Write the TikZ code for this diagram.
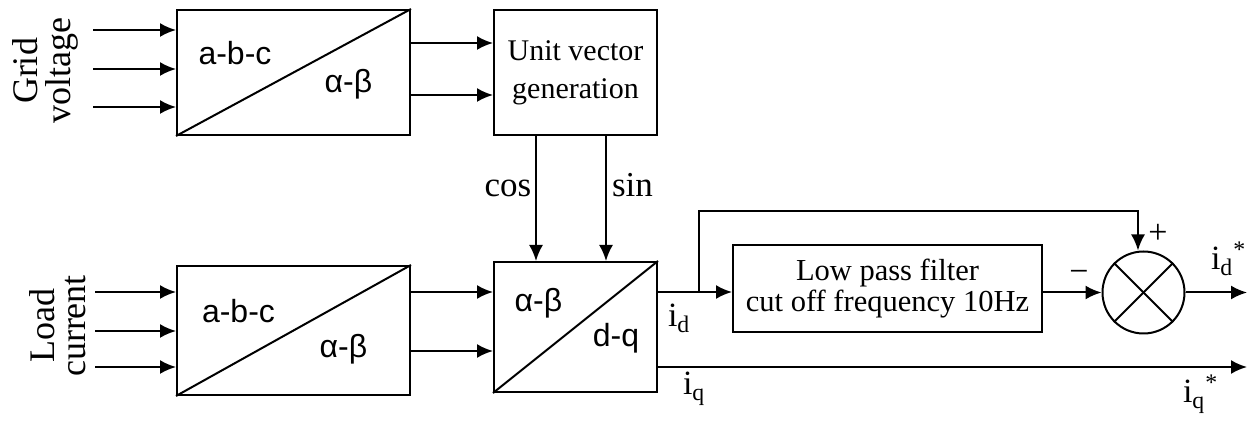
\documentclass[tikz,border=0pt]{standalone}
\usepackage{fontspec}
\setmainfont{Liberation Serif}
\setsansfont{Liberation Sans}
\usepackage{tikz}
\usetikzlibrary{arrows.meta, positioning, calc}

\begin{document}
\begin{tikzpicture}[
  x=0.5pt, y=-0.5pt,
  line width=1pt,
  blk/.style={
    draw, rectangle, inner sep=0pt, line width=1pt
  },
  arr/.style={-{Latex[length=8pt, width=7pt]}, line width=1pt},
  tflbl/.style={font=\sffamily\fontsize{16}{18}\selectfont, inner sep=0pt, anchor=base},
  sig/.style={font=\fontsize{17}{19}\selectfont, inner sep=0pt, anchor=base west},
]
  \useasboundingbox (0,0) rectangle (1248,421);

  % Top row
  \node[blk, minimum width=116.5pt, minimum height=62.5pt] (gridtf) at (293.5,72.5) {};
  \node[blk, minimum width=81.5pt, minimum height=62.5pt, align=center,
        font=\fontsize{15}{19}\selectfont] (unitvec) at (575.5,72.5) {Unit vector\\ generation};

  % Bottom row
  \node[blk, minimum width=116.5pt, minimum height=64.5pt] (loadtf) at (293.5,330.5) {};
  \node[blk, minimum width=81.5pt, minimum height=65pt] (dqtf) at (575.5,327) {};
  \node[blk, minimum width=154.5pt, minimum height=43.5pt, align=center,
        font=\fontsize{15.25}{15.5}\selectfont] (lpf) at (887.5,288.5) {Low pass filter\\cut off frequency 10Hz};
  \node[draw, circle, minimum size=41pt, inner sep=0pt, line width=1pt] (sum) at (1143.5,292.5) {};

  % Diagonals and cross
  \draw (gridtf.south west) -- (gridtf.north east);
  \draw (loadtf.south west) -- (loadtf.north east);
  \draw (dqtf.south west) -- (dqtf.north east);
  \draw (sum.north west) -- (sum.south east);
  \draw (sum.north east) -- (sum.south west);

  % Block labels
  \node[tflbl] (gabc) at (235,65) {a-b-c};
  \node[tflbl] (gab)  at (348.5,93) {α-β};
  \node[tflbl] (labc) at (238.5,323) {a-b-c};
  \node[tflbl] (lab)  at (343.5,358) {α-β};
  \node[tflbl] (dab)  at (538.5,312) {α-β};
  \node[tflbl] (ddq)  at (616,347) {d-q};

  % Side labels
  \node[rotate=90, align=center, inner sep=0pt,
        font=\fontsize{18}{16.5}\selectfont] (gridlbl) at (45,71) {Grid\\voltage};
  \node[rotate=90, align=center, inner sep=0pt,
        font=\fontsize{18}{15.5}\selectfont] (loadlbl) at (58,326) {Load\\current};

  % Input arrows
  \foreach \y in {30,69,107} {
    \coordinate (gin\y) at (93,\y);
    \draw[arr] (gin\y) -- (gin\y -| gridtf.west);
  }
  \foreach \y in {292,331,367} {
    \coordinate (lin\y) at (95,\y);
    \draw[arr] (lin\y) -- (lin\y -| loadtf.west);
  }

  % Block to block arrows
  \draw[arr] (gridtf.east |- 0,43) -- (unitvec.west |- 0,43);
  \draw[arr] (gridtf.east |- 0,95) -- (unitvec.west |- 0,95);
  \draw[arr] (loadtf.east |- 0,292) -- (dqtf.west |- 0,292);
  \draw[arr] (loadtf.east |- 0,351) -- (dqtf.west |- 0,351);
  \draw[arr] (unitvec.south -| 536,0) -- (dqtf.north -| 536,0);
  \draw[arr] (unitvec.south -| 606,0) -- (dqtf.north -| 606,0);
  \node[font=\fontsize{17.5}{20}\selectfont, inner sep=0pt, anchor=base] (coslbl) at (508,197) {cos};
  \node[font=\fontsize{17.5}{20}\selectfont, inner sep=0pt, anchor=base] (sinlbl) at (632.5,197) {sin};

  % d axis path
  \coordinate (fb) at (699,292);
  \coordinate (fbtop) at (699,211);
  \draw[arr] (dqtf.east |- fb) -- (lpf.west |- fb);
  \draw[arr] (fb) -- (fbtop) -| ([xshift=-2.75pt]sum.north);
  \draw[arr] (lpf.east |- sum) -- (sum.west);
  \coordinate (idout) at (1247,292.5);
  \draw[arr] (sum.east) -- (idout);

  % q axis path
  \coordinate (iqout) at (1247,367);
  \draw[arr] (dqtf.east |- iqout) -- (iqout);

  % Signs and signals
  \node[font=\fontsize{17}{19}\selectfont, inner sep=0pt] (minus) at (1079,276) {−};
  \node[font=\fontsize{17}{19}\selectfont, inner sep=0pt] (plus) at (1158,234) {+};
  \node[sig] (idlbl) at (667,327) {i\textsubscript{d}};
  \node[sig] (iqlbl) at (682,395) {i\textsubscript{q}};
  \node[sig] (idref) at (1210,270) {i\textsubscript{d}\textsuperscript{*}};
  \node[sig] (iqref) at (1182,403) {i\textsubscript{q}\textsuperscript{*}};
\end{tikzpicture}
\end{document}
